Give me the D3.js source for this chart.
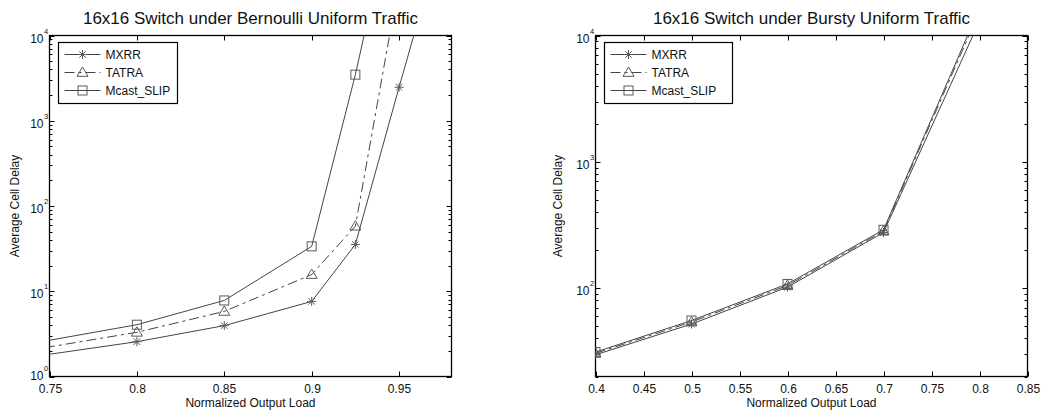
<!DOCTYPE html>
<html lang="en">
<head>
  <meta charset="utf-8">
  <title>16x16 Switch delay</title>
  <script src="https://cdn.jsdelivr.net/npm/d3@7"></script>
  <style>
    body { margin: 0; background: #fff; }
    text { font-family: "Liberation Sans", Arial, sans-serif; fill: #111; }
  </style>
</head>
<body>
  <script>
    // data
    const seriesNames = ["MXRR", "TATRA", "Mcast_SLIP"];

    const bernLoad = [0.7, 0.8, 0.85, 0.9, 0.925, 0.95, 0.96];
    const bernMXRR = [1.3, 2.56, 3.95, 7.6, 35.4, 2470, 13000];
    const bernTATRALoad = [0.7, 0.8, 0.85, 0.9, 0.925, 0.95];
    const bernTATRA = [1.5, 3.3, 5.8, 15.7, 58, 42000];
    const bernSLIPLoad = [0.7, 0.8, 0.85, 0.9, 0.925, 0.95];
    const bernSLIP = [1.75, 4.05, 7.8, 33.6, 3475, 700000];

    const burstLoad = [0.4, 0.5, 0.6, 0.7, 0.8];
    const burstMXRR = [29.7, 52, 102, 276, 13000];
    const burstTATRA = [30.5, 54, 105, 283, 15500];
    const burstSLIP = [31.2, 55.5, 108, 290, 16500];

    const bernTicks = [0.75, 0.8, 0.85, 0.9, 0.95];
    const burstTicks = [0.4, 0.45, 0.5, 0.55, 0.6, 0.65, 0.7, 0.75, 0.8, 0.85];

    const width = 1044, height = 412;
    const svg = d3.select("body").append("svg")
      .attr("width", width).attr("height", height);

    const lineColor = "#444", markColor = "#5a5a5a";
    const dashes = [null, "10,4,3,4", null];

    function marker(g, type, x, y) {
      const s = 4.5;
      if (type === 0) {
        const p = `M${x - s},${y}H${x + s}M${x},${y - s}V${y + s}` +
          `M${x - s * 0.72},${y - s * 0.72}L${x + s * 0.72},${y + s * 0.72}` +
          `M${x - s * 0.72},${y + s * 0.72}L${x + s * 0.72},${y - s * 0.72}`;
        g.append("path").attr("d", p).attr("stroke", markColor).attr("fill", "none");
      } else if (type === 1) {
        const h = 5.5;
        g.append("path").attr("d", `M${x},${y - h}L${x + h},${y + h * 0.7}L${x - h},${y + h * 0.7}Z`)
          .attr("stroke", markColor).attr("fill", "none");
      } else {
        g.append("rect").attr("x", x - s).attr("y", y - s).attr("width", 2 * s).attr("height", 2 * s)
          .attr("stroke", markColor).attr("fill", "none");
      }
    }

    function panel(cfg) {
      const x = d3.scaleLinear().domain(cfg.xDomain).range([cfg.left, cfg.right]);
      const y = d3.scaleLog().domain(cfg.yDomain).range([376.5, 35.5]);
      const g = svg.append("g");

      g.append("clipPath").attr("id", cfg.id).append("rect")
        .attr("x", cfg.left).attr("y", 35.5)
        .attr("width", cfg.right - cfg.left).attr("height", 341);

      // ticks, inside, on all four sides
      const tk = g.append("g").attr("stroke", "#000").attr("stroke-width", 1);
      cfg.xTicks.forEach(t => {
        const px = Math.round(x(t)) + 0.5;
        tk.append("line").attr("x1", px).attr("x2", px).attr("y1", 376.5).attr("y2", 371.5);
        tk.append("line").attr("x1", px).attr("x2", px).attr("y1", 35.5).attr("y2", 40.5);
        g.append("text").attr("x", px).attr("y", 393).attr("text-anchor", "middle")
          .attr("font-size", 12).text(d3.format("")(t));
      });
      const [y0, y1] = cfg.yDomain;
      for (let e = Math.floor(Math.log10(y0)); e <= Math.log10(y1); e++) {
        for (let m = 1; m < 10; m++) {
          const v = m * Math.pow(10, e);
          if (v < y0 - 1e-9 || v > y1 + 1e-9) continue;
          const py = Math.round(y(v)) + 0.5;
          const len = m === 1 ? 5 : 3;
          tk.append("line").attr("x1", cfg.left).attr("x2", cfg.left + len).attr("y1", py).attr("y2", py);
          tk.append("line").attr("x1", cfg.right).attr("x2", cfg.right - len).attr("y1", py).attr("y2", py);
          if (m === 1) {
            // bottom label sits a little higher, as in the original
            const base = v === y0 ? py + 2.5 : py + 6.5;
            g.append("text").attr("x", cfg.left - 6).attr("y", base)
              .attr("text-anchor", "end").attr("font-size", 12).text("10");
            g.append("text").attr("x", cfg.left - 5.5).attr("y", base - 9)
              .attr("font-size", 7.5).text(e);
          }
        }
      }

      g.append("rect").attr("x", cfg.left).attr("y", 35.5)
        .attr("width", cfg.right - cfg.left).attr("height", 341)
        .attr("fill", "none").attr("stroke", "#000").attr("stroke-width", 1.3);

      // series
      const plot = g.append("g").attr("clip-path", `url(#${cfg.id})`);
      const line = d3.line().x(d => x(d[0])).y(d => y(d[1]));
      cfg.series.forEach((s, i) => {
        const pts = d3.zip(s.x, s.y);
        plot.append("path").datum(pts).attr("d", line)
          .attr("fill", "none").attr("stroke", lineColor).attr("stroke-width", 1)
          .attr("stroke-dasharray", dashes[i]);
        pts.filter(d => d[0] >= cfg.xDomain[0] && d[0] <= cfg.xDomain[1] &&
          d[1] >= cfg.yDomain[0] && d[1] <= cfg.yDomain[1])
          .forEach(d => marker(plot, i, x(d[0]), y(d[1])));
      });

      // legend
      const lx = cfg.left + 9, lw = cfg.legendW;
      g.append("rect").attr("x", lx).attr("y", 42.5).attr("width", lw).attr("height", 61)
        .attr("fill", "#fff").attr("stroke", "#000").attr("stroke-width", 1.2);
      seriesNames.forEach((n, i) => {
        const ly = 54.5 + i * 18;
        g.append("line").attr("x1", lx + 6).attr("x2", lx + 42).attr("y1", ly).attr("y2", ly)
          .attr("stroke", lineColor).attr("stroke-dasharray", dashes[i]);
        marker(g, i, lx + 24, ly);
        g.append("text").attr("x", lx + 47).attr("y", ly + 4.5).attr("font-size", 12).text(n);
      });

      // titles
      const cx = (cfg.left + cfg.right) / 2;
      g.append("text").attr("x", cx).attr("y", 24).attr("text-anchor", "middle")
        .attr("font-size", 17).text(cfg.title);
      g.append("text").attr("x", cx).attr("y", 407).attr("text-anchor", "middle")
        .attr("font-size", 12).text("Normalized Output Load");
      g.append("text").attr("transform", `translate(${cfg.yLabelX},206) rotate(-90)`)
        .attr("text-anchor", "middle").attr("font-size", 12).text("Average Cell Delay");
    }

    panel({
      id: "clipA", left: 49.5, right: 451.5, xDomain: [0.75, 0.98], yDomain: [1, 1e4],
      xTicks: bernTicks, legendW: 119, yLabelX: 19,
      title: "16x16 Switch under Bernoulli Uniform Traffic",
      series: [
        { x: bernLoad, y: bernMXRR },
        { x: bernTATRALoad, y: bernTATRA },
        { x: bernSLIPLoad, y: bernSLIP }
      ]
    });

    panel({
      id: "clipB", left: 595.5, right: 1027.5, xDomain: [0.4, 0.85], yDomain: [20, 1e4],
      xTicks: burstTicks, legendW: 128, yLabelX: 562,
      title: "16x16 Switch under Bursty Uniform Traffic",
      series: [
        { x: burstLoad, y: burstMXRR },
        { x: burstLoad, y: burstTATRA },
        { x: burstLoad, y: burstSLIP }
      ]
    });
  </script>
</body>
</html>
